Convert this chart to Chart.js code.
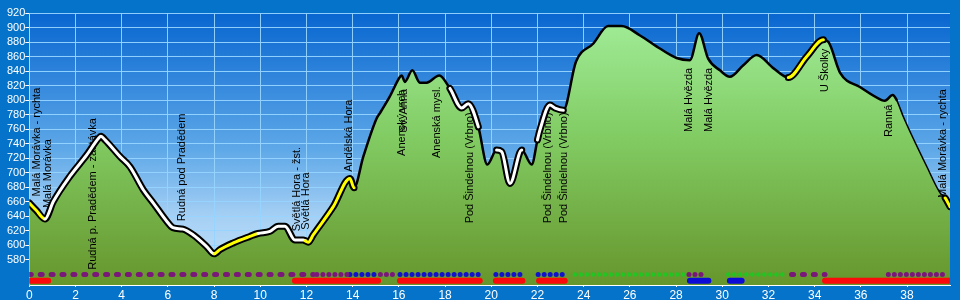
<!DOCTYPE html>
<html>
<head>
<meta charset="utf-8">
<title>Výškový profil</title>
<script src="https://cdn.jsdelivr.net/npm/chart.js@4.4.1/dist/chart.umd.min.js"></script>
<style>
    html, body { margin: 0; padding: 0; background: #0573c9; }
    #wrap { width: 960px; height: 300px; }
</style>
</head>
<body>
<div id="wrap"><canvas id="profile" width="960" height="300"></canvas></div>
<script>
// Profile of the route: distance (km) and elevation (m)
const kmPoints = [0, 0.3, 0.68, 1.04, 1.76, 2.48, 2.99, 3.1, 3.28, 3.93, 4.36, 4.94, 5.37, 5.95, 6.22, 6.65,
    7.1, 7.68, 8.0, 8.26, 8.83, 9.55, 9.9, 10.42, 10.78, 11.07, 11.5, 11.86, 11.95, 12.08, 12.29, 13.16,
    13.88, 14.06, 14.46, 15.04, 15.18, 15.61, 16.05, 16.12, 16.26, 16.58, 16.91, 17.2, 17.75, 18.21,
    18.72, 19.0, 19.44, 19.83, 20.23, 20.45, 20.81, 21.32, 21.75, 22.0, 22.11, 22.54, 22.76, 23.12,
    23.67, 24.42, 25.06, 25.64, 26.44, 27.3, 28.02, 28.6, 29.0, 29.39, 29.9, 30.33, 30.91, 31.49,
    32.21, 32.86, 33.66, 34.38, 34.6, 35.11, 35.96, 36.9, 37.04, 37.38, 37.55, 37.84, 38.86, 39.43,
    39.65, 39.86];
const elevPoints = [658, 648, 636, 660, 695, 724, 747, 750, 745, 722, 708, 676, 658, 633, 624, 622,
    614, 598, 588, 594, 603, 612, 616, 619, 626, 626, 607, 607, 606, 604, 614, 653,
    692, 679, 722, 775, 782, 805, 832, 834, 825, 841, 824, 824, 834, 816,
    789, 795, 763, 711, 731, 729, 685, 731, 711, 745, 759, 793, 789, 786,
    853, 878, 902, 902, 889, 871, 858, 855, 892, 857, 841, 832, 848, 862,
    844, 831, 860, 883, 880, 837, 818, 800, 799, 807, 800, 777, 708, 672,
    665, 653];

// Kind of path from a given km on: Y yellow, W white, B black, T thin black
const routeFrom = [0, 0.68, 8.0, 9.9, 11.95, 14.06, 18.21, 19.44, 20.23, 21.32, 22.0, 23.12, 32.86, 34.38, 37.55, 39.65];
const routeKind = ['Y', 'W', 'Y', 'W', 'Y', 'B', 'W', 'B', 'W', 'B', 'W', 'B', 'Y', 'B', 'T', 'Y'];

// Named places along the route
const stopNames = ['Malá Morávka - rychta', 'Malá Morávka', 'Rudná p. Pradědem - zastávka', 'Rudná pod Pradědem',
    'Světlá Hora - žst.', 'Světlá Hora', 'Andělská Hora', 'Anenský vrch', 'Sv. Anna', 'Anenská mysl.',
    'Pod Šindelnou (Vrbno)', 'Pod Šindelnou (Vrbno)', 'Pod Šindelnou (Vrbno)', 'Malá Hvězda', 'Malá Hvězda',
    'U Školky', 'Ranná', 'Malá Morávka - rychta'];
const stopKm = [0.32, 0.81, 2.74, 6.6, 11.58, 11.98, 13.84, 16.15, 16.2, 17.64, 19.08, 22.47, 23.15, 28.57, 29.42, 34.45, 37.23, 39.57];
const stopElev = [667, 651, 566, 633, 619, 621, 701, 723, 755, 720, 630, 630, 630, 756, 756, 811, 749, 665];

// Surface strips under the profile
const dotFrom = [0, 12.45, 13.88, 15.2, 16.05, 20.2, 22.03, 23.62, 28.56, 30.26, 33.0, 37.19];
const dotTo = [12.3, 13.8, 15.11, 15.83, 19.48, 21.32, 23.19, 28.39, 29.16, 32.79, 34.45, 39.77];
const dotKind = ['P', 'p', 'b', 'p', 'b', 'b', 'b', 'g', 'p', 'g', 'P', 'p'];
const barFrom = [0.05, 11.5, 16.05, 20.2, 22.07, 28.6, 30.33, 34.45];
const barTo = [0.82, 15.1, 19.5, 21.35, 23.18, 29.4, 30.84, 39.8];
const barKind = ['r', 'r', 'r', 'r', 'r', 'b', 'b', 'r'];

const kmTicks = [0, 2, 4, 6, 8, 10, 12, 14, 16, 18, 20, 22, 24, 26, 28, 30, 32, 34, 36, 38];
const elevTicks = [580, 600, 620, 640, 660, 680, 700, 720, 740, 760, 780, 800, 820, 840, 860, 880, 900, 920];

const FONT = '"Liberation Sans", Arial, sans-serif';
const profile = kmPoints.map((k, i) => ({ x: k, y: elevPoints[i] }));

function kindAt(km) {
    let k = routeKind[0];
    routeFrom.forEach((f, i) => { if (km >= f) k = routeKind[i]; });
    return k;
}
const segKind = ctx => kindAt((ctx.p0.parsed.x + ctx.p1.parsed.x) / 2);

const dotStyle = {
    P: { color: '#7a187a', width: 5, dash: [2, 8.9] },
    p: { color: '#7a187a', width: 5, dash: [0.01, 6] },
    b: { color: '#1212c8', width: 5, dash: [0.01, 6] },
    g: { color: '#22c422', width: 4.5, dash: [0.01, 6] }
};
const barColor = { r: '#fa0a0a', b: '#0c0cd6' };

function greenFill(ctx) {
    const area = ctx.chart.chartArea;
    if (!area) return '#80c860';
    const g = ctx.chart.ctx.createLinearGradient(0, area.top, 0, area.bottom);
    g.addColorStop(0, '#a2ee9a');
    g.addColorStop(0.45, '#82cc64');
    g.addColorStop(1, '#66962c');
    return g;
}

const datasets = [
    // green area under the profile
    {
        data: profile, fill: 'start', backgroundColor: greenFill, borderWidth: 0,
        pointRadius: 0, cubicInterpolationMode: 'monotone', order: 4
    },
    // black outline
    {
        data: profile, fill: false, borderColor: '#000', pointRadius: 0, order: 3,
        cubicInterpolationMode: 'monotone', borderJoinStyle: 'round', borderCapStyle: 'round',
        segment: {
            borderWidth: ctx => {
                const k = segKind(ctx);
                return k === 'B' ? 2.5 : k === 'T' ? 1.5 : 7;
            }
        }
    },
    // coloured path on top
    {
        data: profile, fill: false, pointRadius: 0, borderWidth: 3, order: 2,
        cubicInterpolationMode: 'monotone', borderJoinStyle: 'round', borderCapStyle: 'round',
        segment: {
            borderColor: ctx => {
                const k = segKind(ctx);
                return k === 'Y' ? '#ffff00' : k === 'W' ? '#ffffff' : 'rgba(0,0,0,0)';
            }
        }
    }
];

dotFrom.forEach((f, i) => {
    const s = dotStyle[dotKind[i]];
    datasets.push({
        data: [{ x: f, y: 559.5 }, { x: dotTo[i], y: 559.5 }],
        borderColor: s.color, borderWidth: s.width, borderDash: s.dash, borderCapStyle: 'round',
        pointRadius: 0, fill: false, order: 1
    });
});
barFrom.forEach((f, i) => {
    datasets.push({
        data: [{ x: f, y: 551 }, { x: barTo[i], y: 551 }],
        borderColor: barColor[barKind[i]], borderWidth: 6, borderCapStyle: 'round',
        pointRadius: 0, fill: false, order: 0
    });
});

// Blue backgrounds: page and plot gradient
const backdrop = {
    id: 'backdrop',
    beforeDraw(chart) {
        const { ctx, chartArea: a } = chart;
        ctx.save();
        ctx.fillStyle = '#0573c9';
        ctx.fillRect(0, 0, chart.width, chart.height);
        const g = ctx.createLinearGradient(0, a.top, 0, a.bottom);
        g.addColorStop(0, '#0866d0');
        g.addColorStop(0.5, '#5ea8e8');
        g.addColorStop(0.75, '#a6d0f4');
        g.addColorStop(1, '#c8e4fa');
        ctx.fillStyle = g;
        ctx.fillRect(a.left, a.top, a.right - a.left, a.bottom - a.top);
        ctx.restore();
    }
};

// Vertical place names, drawn over the green area but under the path
const placeNames = {
    id: 'placeNames',
    afterDatasetDraw(chart, args) {
        if (args.index !== 0) return;
        const { ctx, scales: { x, y } } = chart;
        ctx.save();
        ctx.font = '11px ' + FONT;
        ctx.fillStyle = '#000';
        ctx.textAlign = 'left';
        ctx.textBaseline = 'middle';
        stopNames.forEach((name, i) => {
            ctx.save();
            ctx.translate(x.getPixelForValue(stopKm[i]), y.getPixelForValue(stopElev[i]));
            ctx.rotate(-Math.PI / 2);
            ctx.fillText(name, 0, 0);
            ctx.restore();
        });
        ctx.restore();
    }
};

new Chart(document.getElementById('profile'), {
    type: 'line',
    data: { datasets },
    plugins: [backdrop, placeNames],
    options: {
        responsive: false,
        animation: false,
        layout: { padding: { top: 13, right: 10, left: 0, bottom: 0 } },
        plugins: { legend: { display: false }, tooltip: { enabled: false } },
        scales: {
            x: {
                type: 'linear', min: 0, max: 39.86,
                afterBuildTicks: s => { s.ticks = kmTicks.map(v => ({ value: v })); },
                afterFit: s => { s.height = 15; },
                ticks: { color: '#fff', font: { size: 12, family: FONT }, padding: 1, maxRotation: 0, autoSkip: false },
                grid: { color: 'rgba(150,212,255,0.95)', tickColor: '#fff', tickLength: 2 },
                border: { color: '#fff' }
            },
            y: {
                type: 'linear', min: 545, max: 920,
                afterBuildTicks: s => { s.ticks = elevTicks.map(v => ({ value: v })); },
                afterFit: s => { s.width = 29.3; },
                ticks: { color: '#fff', font: { size: 11, family: FONT }, padding: 0, autoSkip: false },
                grid: { color: 'rgba(150,212,255,0.95)', tickColor: '#fff', tickLength: 4 },
                border: { color: '#a8dcff' }
            }
        }
    }
});
</script>
</body>
</html>
